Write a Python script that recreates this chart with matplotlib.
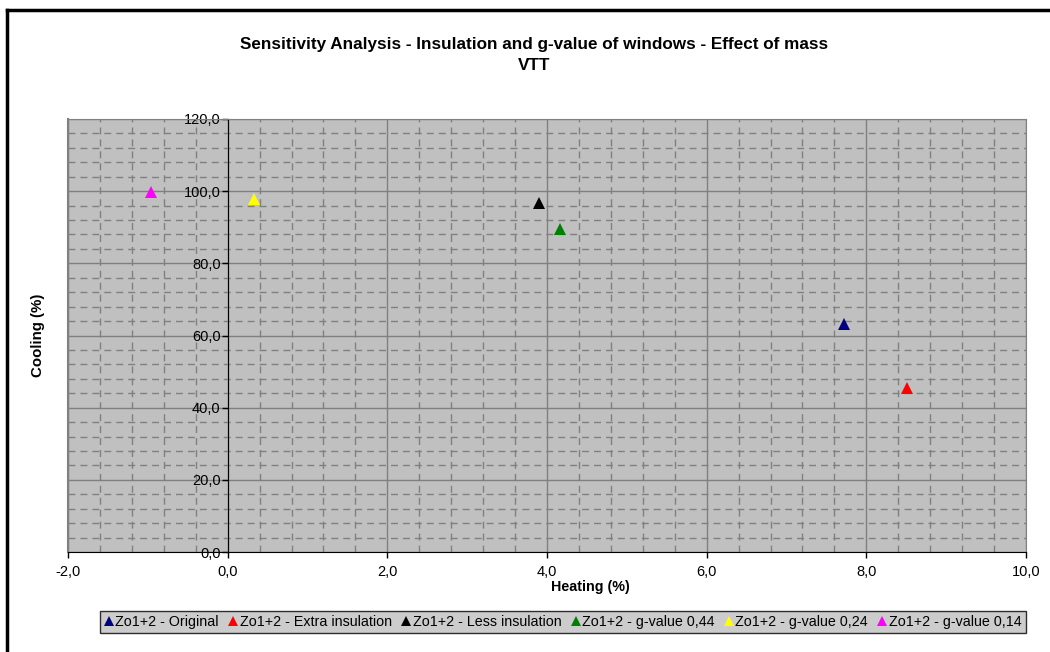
import numpy as np
import matplotlib.pyplot as plt
from matplotlib.ticker import MultipleLocator, FuncFormatter
from matplotlib.lines import Line2D

# data
series = ['Zo1+2 - Original', 'Zo1+2 - Extra insulation', 'Zo1+2 - Less insulation',
          'Zo1+2 - g-value 0,44', 'Zo1+2 - g-value 0,24', 'Zo1+2 - g-value 0,14']
heating = [7.72, 8.51, 3.90, 4.16, 0.33, -0.96]
cooling = [63.2, 45.4, 96.6, 89.6, 97.8, 99.7]
colors = ['#000080', '#FF0000', '#000000', '#008000', '#FFFF00', '#FF00FF']

plt.rcParams['font.family'] = ['Liberation Sans', 'DejaVu Sans']

fig = plt.figure(figsize=(10.5, 6.52), dpi=100)
ax = fig.add_axes([68/1050, 1-552/652, (1026-68)/1050, (552-119)/652])
ax.set_facecolor('#C0C0C0')

for h, c, col in zip(heating, cooling, colors):
    ax.plot(h, c, marker='^', ms=8, mew=0, color=col, ls='none', zorder=5)

ax.set_xlim(-2, 10)
ax.set_ylim(0, 120)
ax.xaxis.set_major_locator(MultipleLocator(2))
ax.xaxis.set_minor_locator(MultipleLocator(0.4))
ax.yaxis.set_major_locator(MultipleLocator(20))
ax.yaxis.set_minor_locator(MultipleLocator(4))
fmt = FuncFormatter(lambda v, p: f"{v:.1f}".replace('.', ','))
ax.xaxis.set_major_formatter(fmt)
ax.yaxis.set_major_formatter(fmt)

ax.grid(which='major', color='#808080', lw=1, ls='-', zorder=0)
ax.grid(which='minor', color='#808080', lw=1, ls=(0, (5, 3.6)), zorder=0)
ax.set_axisbelow(True)

ax.spines['left'].set_position(('data', 0))
ax.spines['left'].set_color('#000000')
ax.spines['bottom'].set_color('#000000')
for s in ['top', 'right']:
    ax.spines[s].set_color('#808080')
ax.axvline(-2, color='#808080', lw=1.5, clip_on=False)

ax.tick_params(which='major', direction='out', length=4, width=1, labelsize=10.5, color='black')
ax.tick_params(which='minor', length=0)
ax.tick_params(axis='x', pad=5)
ax.tick_params(axis='y', pad=1)

fig.text(590/1050, 1-587/652, 'Heating (%)', ha='center', va='center', fontsize=10.3, fontweight='bold')
fig.text(38/1050, 1-335/652, 'Cooling (%)', ha='center', va='center', fontsize=10.8,
         fontweight='bold', rotation=90)
fig.text(534/1050, 1-55/652, 'Sensitivity Analysis - Insulation and g-value of windows - Effect of mass\nVTT',
         ha='center', va='center', fontsize=12.3, fontweight='bold', linespacing=1.5)

handles = [Line2D([], [], marker='^', ms=6.5, mew=0, color=col, ls='none') for col in colors]
leg = fig.legend(handles, series, loc='center', bbox_to_anchor=(563/1050, 1-622/652), ncol=6,
                 fontsize=10.3, frameon=True, fancybox=False, handlelength=0.6, handletextpad=0.15,
                 columnspacing=0.7, borderpad=0.3, borderaxespad=0)
leg.get_frame().set_facecolor('#C0C0C0')
leg.get_frame().set_edgecolor('black')
leg.get_frame().set_linewidth(1)

# chart area border (runs off the right and bottom edge)
fig.add_artist(Line2D([7/1050, 1.0], [1-10/652, 1-10/652], color='black', lw=2.5, transform=fig.transFigure))
fig.add_artist(Line2D([7/1050, 7/1050], [1-10/652, 0.0], color='black', lw=2.5, transform=fig.transFigure))

fig.savefig('out.png', dpi=100)
